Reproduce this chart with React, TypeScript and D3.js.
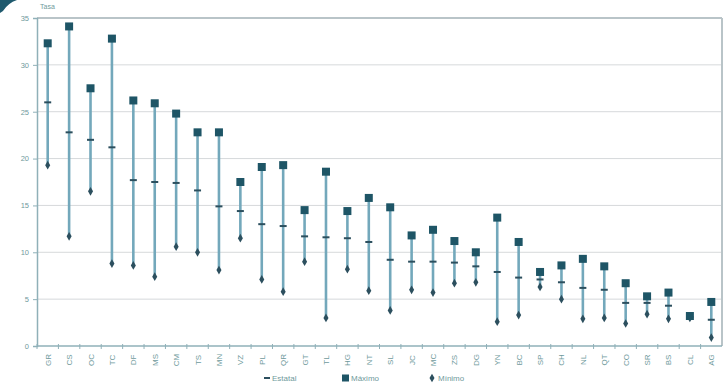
import React, { useEffect, useRef } from "react";
import * as d3 from "d3";

const categories = ["GR","CS","OC","TC","DF","MS","CM","TS","MN","VZ","PL","QR","GT","TL","HG","NT","SL","JC","MC","ZS","DG","YN","BC","SP","CH","NL","QT","CO","SR","BS","CL","AG"];
const estatal = [26.0,22.8,22.0,21.2,17.7,17.5,17.4,16.6,14.9,14.4,13.0,12.8,11.7,11.6,11.5,11.1,9.2,9.0,9.0,8.9,8.5,7.9,7.3,7.1,6.8,6.2,6.0,4.6,4.6,4.3,3.1,2.8];
const maximo = [32.3,34.1,27.5,32.8,26.2,25.9,24.8,22.8,22.8,17.5,19.1,19.3,14.5,18.6,14.4,15.8,14.8,11.8,12.4,11.2,10.0,13.7,11.1,7.9,8.6,9.3,8.5,6.7,5.3,5.7,3.2,4.7];
const minimo = [19.3,11.7,16.5,8.8,8.6,7.4,10.6,10.0,8.1,11.5,7.1,5.8,9.0,3.0,8.2,5.9,3.8,6.0,5.7,6.7,6.8,2.6,3.3,6.3,5.0,2.9,3.0,2.4,3.4,2.9,3.0,0.9];
const yTicks = [0,5,10,15,20,25,30,35];
const legendLabels = ["Estatal","Máximo","Mínimo"];

export default function App() {
  const ref = useRef<SVGSVGElement>(null);
  useEffect(() => {
    const svg = d3.select(ref.current);
    svg.selectAll("*").remove();
    const W = 728, H = 385;
    const L = 37, R = 722, T = 18, B = 346;
    const x = d3.scaleBand<string>().domain(categories).range([L, R]);
    const y = d3.scaleLinear().domain([0, 35]).range([B, T]);
    const font = "Liberation Sans, Arial, sans-serif";
    const textCol = "#6f9a9c";

    svg.append("rect").attr("width", W).attr("height", H).attr("fill", "#fff");

    // corner tab
    svg.append("path").attr("d", "M0,0 L17,0 Q8,3 3,11 L0,13 Z").attr("fill", "#1f5a6e");

    // grid
    svg.append("g").selectAll("line").data(yTicks.filter(t => t > 0)).join("line")
      .attr("x1", L).attr("x2", R).attr("y1", d => y(d)).attr("y2", d => y(d))
      .attr("stroke", d => (d === 35 ? "#b9c4c8" : "#d6d9db"))
      .attr("stroke-width", d => (d === 35 ? 2 : 1));
    svg.append("line").attr("x1", R).attr("x2", R).attr("y1", T).attr("y2", B)
      .attr("stroke", "#b9c4c8").attr("stroke-width", 2);

    // y axis
    const yAxis = d3.axisLeft(y).tickValues(yTicks).tickSize(4).tickPadding(4);
    const gy = svg.append("g").attr("transform", `translate(${L},0)`).call(yAxis);
    gy.select(".domain").attr("stroke", "#8fb0b8").attr("stroke-width", 1.5);
    gy.selectAll(".tick line").attr("stroke", "#8fb0b8");
    gy.selectAll("text").attr("font-family", font).attr("font-size", 7.5).attr("fill", textCol);

    // x axis
    const gx = svg.append("g").attr("transform", `translate(0,${B})`);
    gx.append("line").attr("x1", L).attr("x2", R).attr("stroke", "#8fb0b8").attr("stroke-width", 1.5);
    gx.selectAll("line.tk").data(categories).join("line").attr("class", "tk")
      .attr("x1", d => x(d)!).attr("x2", d => x(d)!).attr("y1", -2).attr("y2", 3)
      .attr("stroke", "#8fb0b8");
    gx.selectAll("text").data(categories).join("text")
      .attr("transform", d => `translate(${x(d)! + x.bandwidth() / 2 + 3},${14}) rotate(-90)`)
      .attr("text-anchor", "middle")
      .attr("font-family", font).attr("font-size", 8).attr("fill", textCol)
      .text(d => d);

    // unit label
    svg.append("text").attr("x", 40).attr("y", 9).attr("font-family", font)
      .attr("font-size", 7).attr("fill", textCol).text("Tasa");

    const cx = (i: number) => x(categories[i])! + x.bandwidth() / 2;
    const idx = categories.map((_, i) => i);

    // range lines
    svg.append("g").selectAll("line").data(idx).join("line")
      .attr("x1", cx).attr("x2", cx)
      .attr("y1", i => y(maximo[i])).attr("y2", i => y(minimo[i]))
      .attr("stroke", "#73a8bb").attr("stroke-width", 2.6);

    // estatal dash
    svg.append("g").selectAll("rect").data(idx).join("rect")
      .attr("x", i => cx(i) - 3.5).attr("y", i => y(estatal[i]) - 1)
      .attr("width", 7).attr("height", 2).attr("fill", "#2c4f5e");

    // minimo diamond
    const diamond = d3.symbol().type(d3.symbolDiamond).size(22);
    svg.append("g").selectAll("path").data(idx).join("path")
      .attr("d", diamond)
      .attr("transform", i => `translate(${cx(i)},${y(minimo[i])})`)
      .attr("fill", "#2c4f5e");

    // maximo square
    svg.append("g").selectAll("rect").data(idx).join("rect")
      .attr("x", i => cx(i) - 4).attr("y", i => y(maximo[i]) - 4)
      .attr("width", 8).attr("height", 8).attr("fill", "#1e5566");

    // legend
    const lg = svg.append("g").attr("font-family", font).attr("font-size", 8).attr("fill", textCol);
    const lx = [264, 345, 432];
    lg.append("rect").attr("x", lx[0]).attr("y", 377).attr("width", 6).attr("height", 2).attr("fill", "#2c4f5e");
    lg.append("text").attr("x", lx[0] + 8).attr("y", 381).text(legendLabels[0]);
    lg.append("rect").attr("x", lx[1] - 3).attr("y", 374.5).attr("width", 7).attr("height", 7).attr("fill", "#1e5566");
    lg.append("text").attr("x", lx[1] + 6).attr("y", 381).text(legendLabels[1]);
    lg.append("path").attr("d", diamond).attr("transform", `translate(${lx[2]},378)`).attr("fill", "#2c4f5e");
    lg.append("text").attr("x", lx[2] + 6).attr("y", 381).text(legendLabels[2]);
  }, []);
  return (
    <div style={{ position: "fixed", left: 0, top: 0 }}>
      <svg ref={ref} width={728} height={385} style={{ display: "block" }} />
    </div>
  );
}
